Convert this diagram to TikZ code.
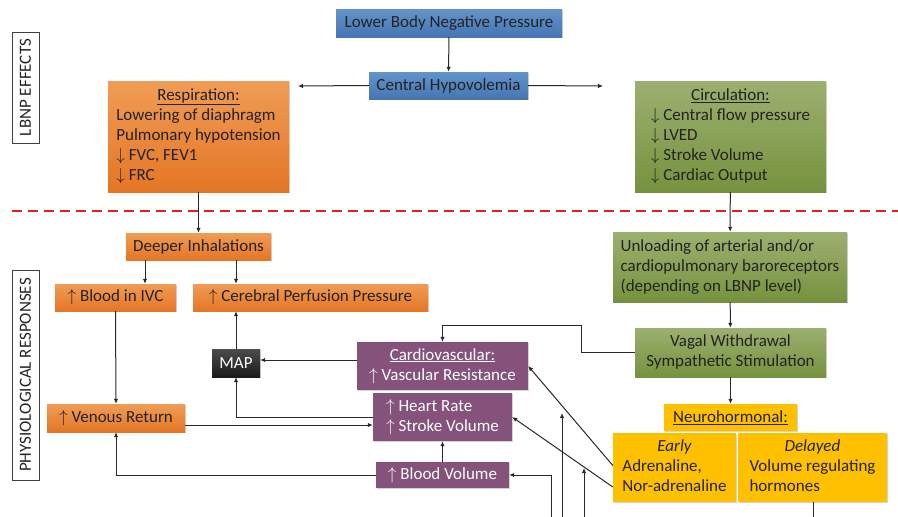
\documentclass[tikz,border=0pt]{standalone}
\usepackage{fontspec}
\setmainfont{Carlito}
\usetikzlibrary{arrows.meta,shadows}

\definecolor{txtgrey}{RGB}{35,35,35}
\definecolor{lngrey}{RGB}{40,40,40}
\definecolor{bluetop}{RGB}{98,147,202}
\definecolor{bluebot}{RGB}{70,118,178}
\definecolor{orangetop}{RGB}{240,156,86}
\definecolor{orangebot}{RGB}{228,118,36}
\definecolor{greentop}{RGB}{156,176,112}
\definecolor{greenbot}{RGB}{118,146,62}
\definecolor{plum}{RGB}{132,82,122}
\definecolor{gold}{RGB}{255,192,0}
\definecolor{dashred}{RGB}{232,30,30}

\newcommand{\upar}{$\uparrow$}
\newcommand{\dnar}{$\downarrow$}

\begin{document}
\begin{tikzpicture}[x=1pt,y=-1pt,
    >={Latex[length=5pt,width=4.5pt]},
    conn/.style={draw=lngrey,line width=1pt},
    box/.style={rectangle,inner sep=0pt,text=txtgrey,
      font=\fontsize{17}{20}\selectfont,
      drop shadow={shadow xshift=1.3pt,shadow yshift=-1.3pt,opacity=0.35}},
    bluebox/.style={box,top color=bluetop,bottom color=bluebot},
    orangebox/.style={box,top color=orangetop,bottom color=orangebot},
    greenbox/.style={box,top color=greentop,bottom color=greenbot},
    plumbox/.style={box,fill=plum,text=white},
    goldbox/.style={box,fill=gold},
    mapbox/.style={box,top color=black!70,bottom color=black!90,text=white},
    sidelabel/.style={rectangle,draw=black!75,line width=0.8pt,rotate=90,
      inner sep=0pt,text=txtgrey,font=\fontsize{17}{20}\selectfont}]

  \useasboundingbox (0,0) rectangle (898,517);

  % side labels and divider
  \node[sidelabel,minimum width=111,minimum height=27] (effects) at (25.5,87.5) {LBNP EFFECTS};
  \node[sidelabel,minimum width=210,minimum height=27] (responses) at (25.5,375) {PHYSIOLOGICAL RESPONSES};
  \draw[dashred,line width=2pt,dash pattern=on 10pt off 6pt] (12,211) -- (898,211);

  % LBNP effects
  \node[bluebox,minimum width=226,minimum height=28] (lbnp) at (449,23) {Lower Body Negative Pressure};
  \node[bluebox,minimum width=159,minimum height=27] (hypo) at (448.5,85.5) {Central Hypovolemia};
  \node[orangebox,minimum width=181,minimum height=111] (resp) at (198.5,136.5)
    {\begin{tabular}{@{}l@{}}\multicolumn{1}{@{}c@{}}{\underline{Respiration:}}\\
      Lowering of diaphragm\\ Pulmonary hypotension\\ \dnar{} FVC, FEV1\\ \dnar{} FRC\end{tabular}};
  \node[greenbox,minimum width=191,minimum height=111] (circ) at (730.5,136.5)
    {\begin{tabular}{@{}l@{}}\multicolumn{1}{@{}c@{}}{\underline{Circulation:}}\\
      \dnar{} Central flow pressure\\ \dnar{} LVED\\ \dnar{} Stroke Volume\\ \dnar{} Cardiac Output\end{tabular}};

  % physiological responses
  \node[orangebox,minimum width=145,minimum height=27] (deep) at (198.5,246.5) {Deeper Inhalations};
  \node[orangebox,minimum width=121,minimum height=27] (ivc) at (115.5,297.5) {\upar{} Blood in IVC};
  \node[orangebox,minimum width=235,minimum height=27] (cpp) at (310.5,297.5) {\upar{} Cerebral Perfusion Pressure};
  \node[orangebox,minimum width=138,minimum height=28] (venous) at (116,418) {\upar{} Venous Return};
  \node[mapbox,minimum width=48,minimum height=28] (map) at (236,363) {MAP};
  \node[plumbox,minimum width=171,minimum height=48] (cardio) at (442.5,366)
    {\begin{tabular}{@{}c@{}}\underline{Cardiovascular:}\\ \upar{} Vascular Resistance\end{tabular}};
  \node[plumbox,minimum width=139,minimum height=48] (hrsv) at (442.5,417)
    {\begin{tabular}{@{}l@{}}\upar{} Heart Rate\\ \upar{} Stroke Volume\end{tabular}};
  \node[plumbox,minimum width=133,minimum height=26] (bvol) at (442.5,475) {\upar{} Blood Volume};
  \node[greenbox,minimum width=234,minimum height=70] (unload) at (730,267)
    {\begin{tabular}{@{}l@{}}Unloading of arterial and/or\\ cardiopulmonary baroreceptors\\ (depending on LBNP level)\end{tabular}};
  \node[greenbox,minimum width=191,minimum height=49] (vagal) at (730.5,352.5)
    {\begin{tabular}{@{}c@{}}Vagal Withdrawal\\ Sympathetic Stimulation\end{tabular}};
  \node[goldbox,minimum width=133,minimum height=27] (neuro) at (730.5,417.5) {\underline{Neurohormonal:}};
  \node[goldbox,minimum width=123,minimum height=69] (early) at (674.5,467.5)
    {\begin{tabular}{@{}l@{}}\multicolumn{1}{@{}c@{}}{\itshape Early}\\ Adrenaline,\\ Nor-adrenaline\end{tabular}};
  \node[goldbox,minimum width=149,minimum height=69] (delayed) at (812.5,467.5)
    {\begin{tabular}{@{}l@{}}\multicolumn{1}{@{}c@{}}{\itshape Delayed}\\ Volume regulating\\ hormones\end{tabular}};

  % free ends at the bottom edge
  \coordinate (hypoL) at (298,86);
  \coordinate (hypoR) at (603,86);
  \coordinate (low1) at (551,517);
  \coordinate (low2) at (562,517);
  \coordinate (low3) at (584,517);
  \coordinate (low4) at (813,517);

  \draw[conn,->] (lbnp) -- (hypo);
  \draw[conn,->] (hypo.west) -- (hypoL);
  \draw[conn,->] (hypo.east) -- (hypoR);
  \draw[conn,->] (resp) -- (deep);
  \draw[conn,->] (circ) -- (unload);
  \draw[conn,->] ([xshift=-53.5pt]deep.south) -- ([xshift=-53.5pt]deep.south |- ivc.north);
  \draw[conn,->] (deep.south -| map) -- (cpp.north -| map);
  \draw[conn,->] (ivc.south) -- (venous.north);
  \draw[conn,->] (map) -- (map |- cpp.south);
  \draw[conn,->] ([yshift=6pt]cardio.west) -- ([yshift=6pt]cardio.west -| map.east);
  \draw[conn,->] (hrsv.west) -| (map.south);
  \draw[conn,->] ([yshift=-7pt]venous.east) -- ([yshift=-7pt]venous.east -| hrsv.west);
  \draw[conn,->] (bvol.west) -| (venous.south);
  \draw[conn,->] (bvol) -- (hrsv);
  \draw[conn,->] (unload) -- (vagal);
  \draw[conn,->] (vagal.west) -- ++(-53,0) -- ++(0,-27) -| (cardio.north);
  \draw[conn,->] (vagal) -- (neuro);
  \draw[conn,->] ([yshift=2pt]early.west) -- (cardio.east);
  \draw[conn,->] ([yshift=-19.5pt]early.west) -- (hrsv.east);
  \draw[conn,->] (low1) |- (bvol.east);
  \draw[conn,->] (low2) -- ++(0,-104);
  \draw[conn,->] (low3) -- ++(0,-49);
  \draw[conn] (delayed.south -| low4) -- (low4);
\end{tikzpicture}
\end{document}
